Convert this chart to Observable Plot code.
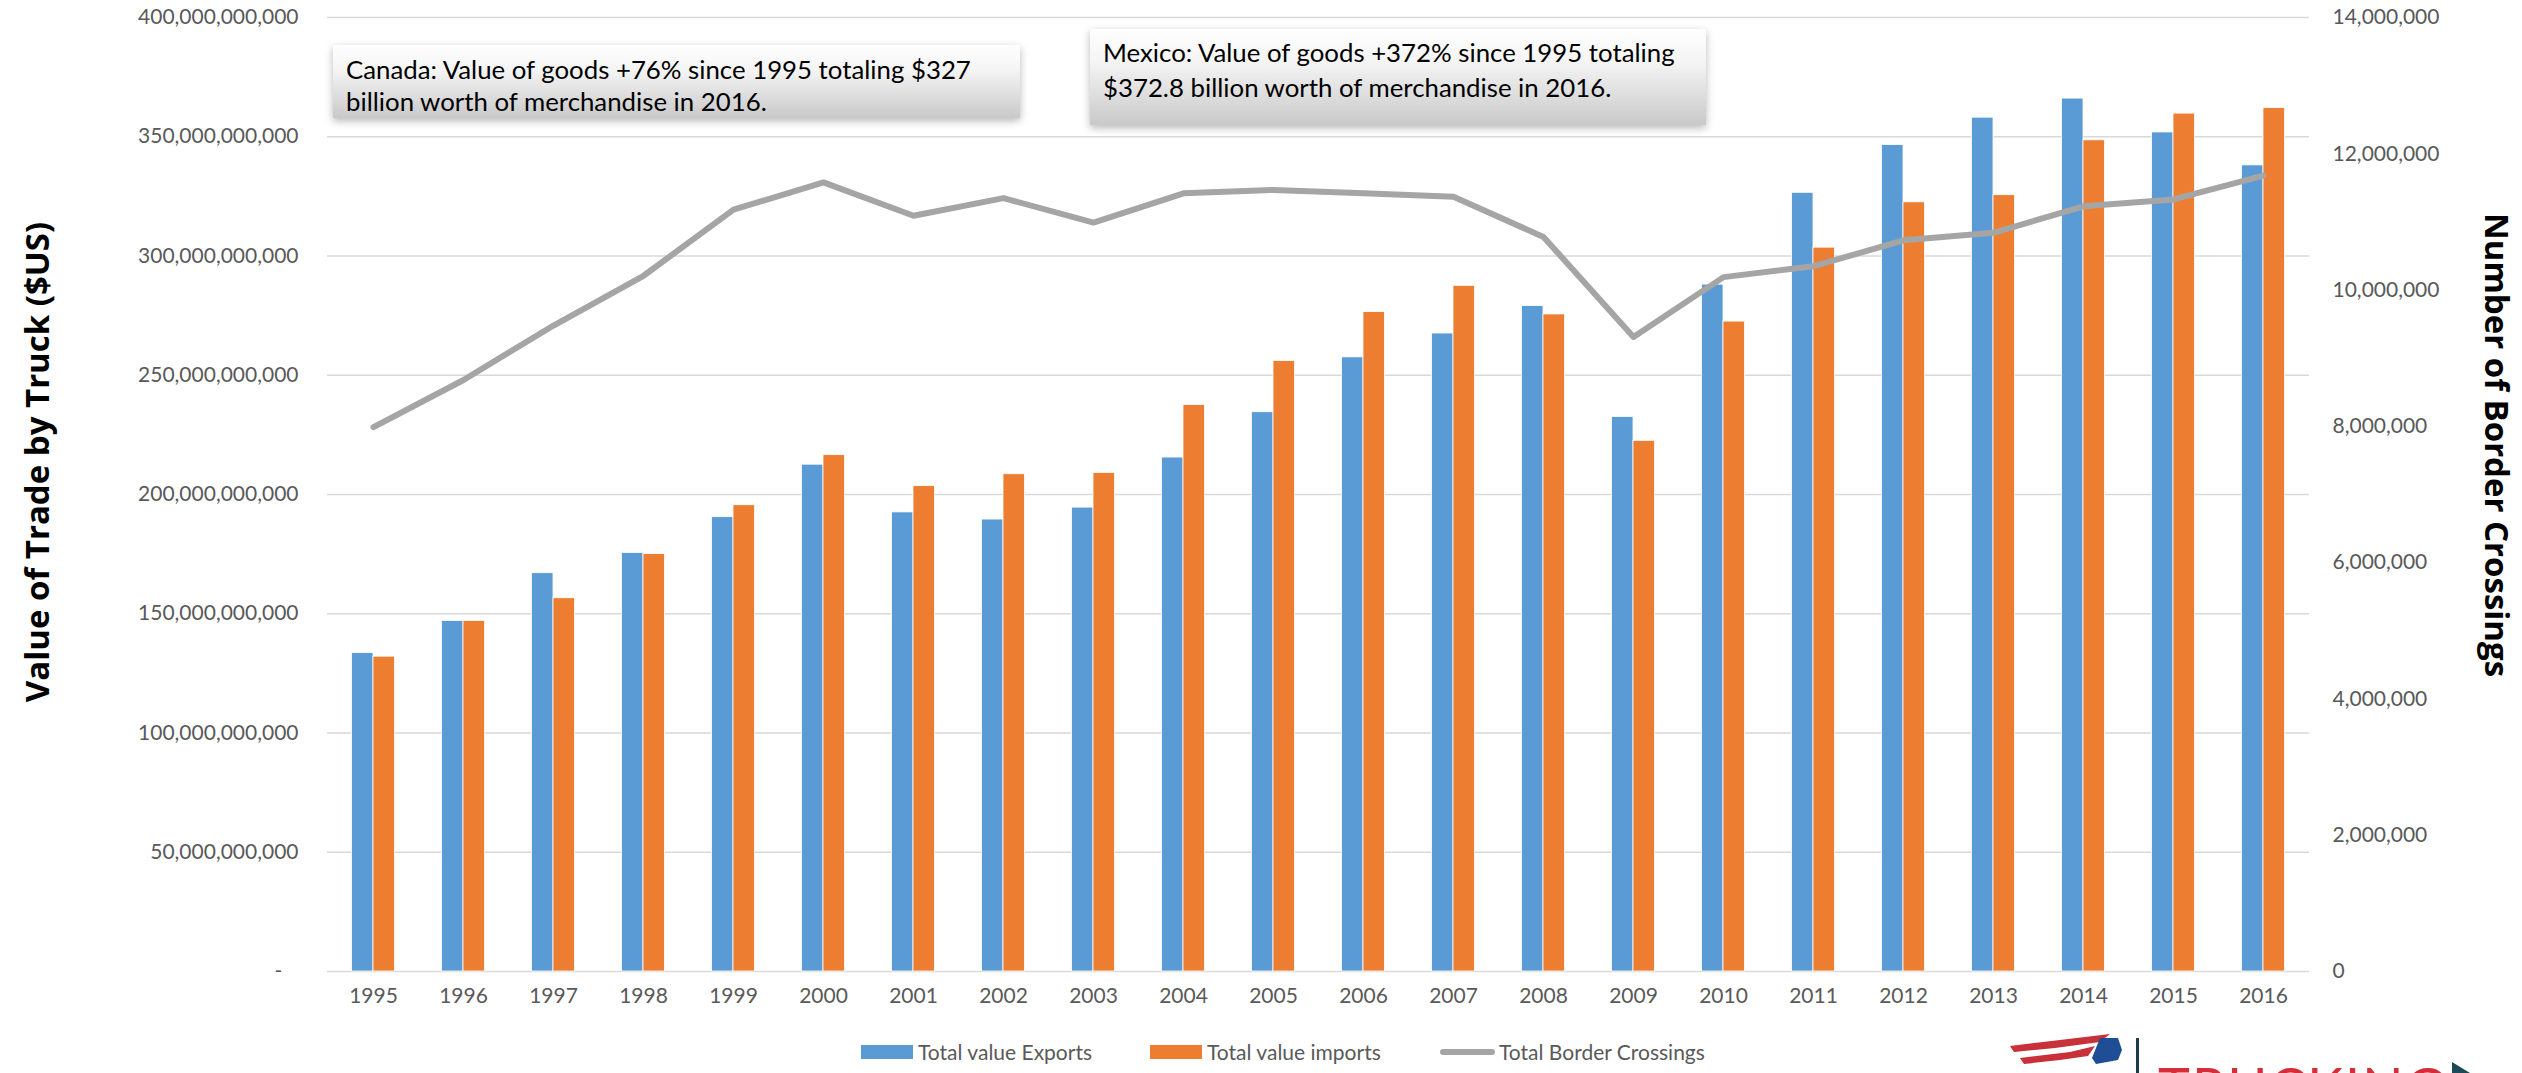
<!DOCTYPE html>
<html>
<head>
<meta charset="utf-8">
<script src="https://cdn.jsdelivr.net/npm/d3@7"></script>
<script src="https://cdn.jsdelivr.net/npm/@observablehq/plot@0.6"></script>
<style>
  html, body { margin: 0; padding: 0; background: #fff; }
  #wrap { position: relative; width: 2522px; height: 1073px; overflow: hidden; background: #fff; font-family: Lato, sans-serif; }
  .note { position: absolute; box-sizing: border-box; color: #000; font-family: Lato, sans-serif; font-size: 25.8px;
          background: linear-gradient(#ffffff 0%, #f4f4f4 35%, #c9c9c9 100%);
          box-shadow: 0 3px 8px rgba(0,0,0,0.28); white-space: nowrap; }
  .atitle { position: absolute; font-family: "Open Sans", sans-serif; font-weight: 700; font-size: 33px; color: #000; white-space: nowrap; }
  #legend { position: relative; width: 2522px; height: 43px; font-family: Lato, sans-serif; font-size: 21px; color: #595959; }
  .li { position: absolute; top: 0; height: 43px; display: flex; align-items: center; }
  .sw { display: inline-block; width: 52px; height: 14px; margin-right: 5px; }
  .ln { display: inline-block; width: 55px; height: 6px; border-radius: 3px; background: #A5A5A5; margin-right: 4px; }
</style>
</head>
<body>
<div id="wrap">
  <div id="chart"></div>
  <div id="legend">
    <div class="li" style="left:861px"><span class="sw" style="background:#5B9BD5"></span>Total value Exports</div>
    <div class="li" style="left:1150px"><span class="sw" style="background:#ED7D31"></span>Total value imports</div>
    <div class="li" style="left:1440px"><span class="ln"></span>Total Border Crossings</div>
  </div>
  <div class="note" style="left:333px;top:45px;width:687px;height:73px;padding:8px 0 0 13px;line-height:32px;">Canada: Value of goods +76% since 1995 totaling $327<br>billion worth of merchandise in 2016.</div>
  <div class="note" style="left:1090px;top:29px;width:616px;height:96px;padding:6px 0 0 13px;line-height:35px;">Mexico: Value of goods +372% since 1995 totaling<br>$372.8 billion worth of merchandise in 2016.</div>
  <div class="atitle" style="left:36px;top:462px;transform:translate(-50%,-50%) rotate(-90deg);">Value of Trade by Truck ($US)</div>
  <div class="atitle" style="left:2497px;top:445px;transform:translate(-50%,-50%) rotate(90deg);">Number of Border Crossings</div>
  <svg style="position:absolute;left:2000px;top:1030px" width="522" height="43">
    <polygon points="10,16 60,10 110,4 100,12 55,18 14,22" fill="#c8303a"/>
    <polygon points="20,28 70,22 95,16 88,26 60,30 24,34" fill="#c8303a"/>
    <polygon points="100,8 118,8 122,20 118,30 96,34 92,28" fill="#1f4e96"/>
    <rect x="136" y="8" width="3" height="35" fill="#1d3c4a"/>
    <polygon points="452,32 470,43 452,43" fill="#1d4a55"/>
  </svg>
  <div style="position:absolute;left:2158px;top:1060px;font-family:Lato, sans-serif;font-size:54px;line-height:1;color:#d42e3a;letter-spacing:2px;">TRUCKING</div>
</div>
<script>
const years = ["1995","1996","1997","1998","1999","2000","2001","2002","2003","2004","2005","2006","2007","2008","2009","2010","2011","2012","2013","2014","2015","2016"];
// Total value of exports, billions $US
const exportsBillion = [133.5,147,167,175.5,190.5,212.5,192.5,189.5,194.5,215.5,234.5,257.5,267.5,279,232.5,288,326.5,346.5,358,366,351.8,338];
// Total value of imports, billions $US
const importsBillion = [132,147,156.5,175,195.5,216.5,203.5,208.5,209,237.5,256,276.5,287.5,275.5,222.5,272.5,303.5,322.5,325.5,348.5,359.7,362];
// Total border crossings, millions
const crossingsMillion = [7.99,8.68,9.48,10.21,11.18,11.58,11.09,11.35,10.99,11.42,11.47,11.42,11.37,10.78,9.31,10.19,10.35,10.73,10.84,11.23,11.33,11.68];
const leftTicks = [0,50e9,100e9,150e9,200e9,250e9,300e9,350e9,400e9];
const rightTicks = [0,2e6,4e6,6e6,8e6,10e6,12e6,14e6];

const leftMax = 400e9, rightMax = 14e6;
const k = leftMax / rightMax;
const rows = years.map((y, i) => ({
  year: y,
  exp: exportsBillion[i] * 1e9,
  imp: importsBillion[i] * 1e9,
  cross: crossingsMillion[i] * 1e6
}));
const fmt = d3.format(",");

const chart = Plot.plot({
  width: 2522,
  height: 1030,
  marginLeft: 327,
  marginRight: 213,
  marginTop: 17,
  marginBottom: 59,
  style: { fontFamily: "Lato, sans-serif", fontSize: "21px", color: "#595959", background: "transparent" },
  x: { type: "band", domain: years, padding: 0, label: null },
  y: { domain: [0, leftMax], label: null },
  marks: [
    Plot.gridY(leftTicks, { stroke: "#d9d9d9", strokeOpacity: 1, strokeWidth: 1.5 }),
    Plot.barY(rows, { x: "year", y: "exp", fill: "#5B9BD5", stroke: "#ffffff", strokeWidth: 0.8, insetLeft: 23.5, insetRight: 45 }),
    Plot.barY(rows, { x: "year", y: "imp", fill: "#ED7D31", stroke: "#ffffff", strokeWidth: 0.8, insetLeft: 45, insetRight: 23.5 }),
    Plot.line(rows, { x: "year", y: d => d.cross * k, stroke: "#A5A5A5", strokeWidth: 6, strokeLinejoin: "round", strokeLinecap: "round" }),
    Plot.axisY({ ticks: leftTicks, tickSize: 0, tickPadding: 29, label: null,
      tickFormat: d => d === 0 ? "-\u00a0\u00a0\u00a0" : fmt(d) }),
    Plot.axisY({ anchor: "right", ticks: rightTicks.map(v => v * k), tickSize: 0, tickPadding: 23, label: null,
      tickFormat: d => fmt(Math.round(d / k)) }),
    Plot.axisX({ tickSize: 0, tickPadding: 17, label: null })
  ]
});
document.getElementById("chart").appendChild(chart);
</script>
</body>
</html>
